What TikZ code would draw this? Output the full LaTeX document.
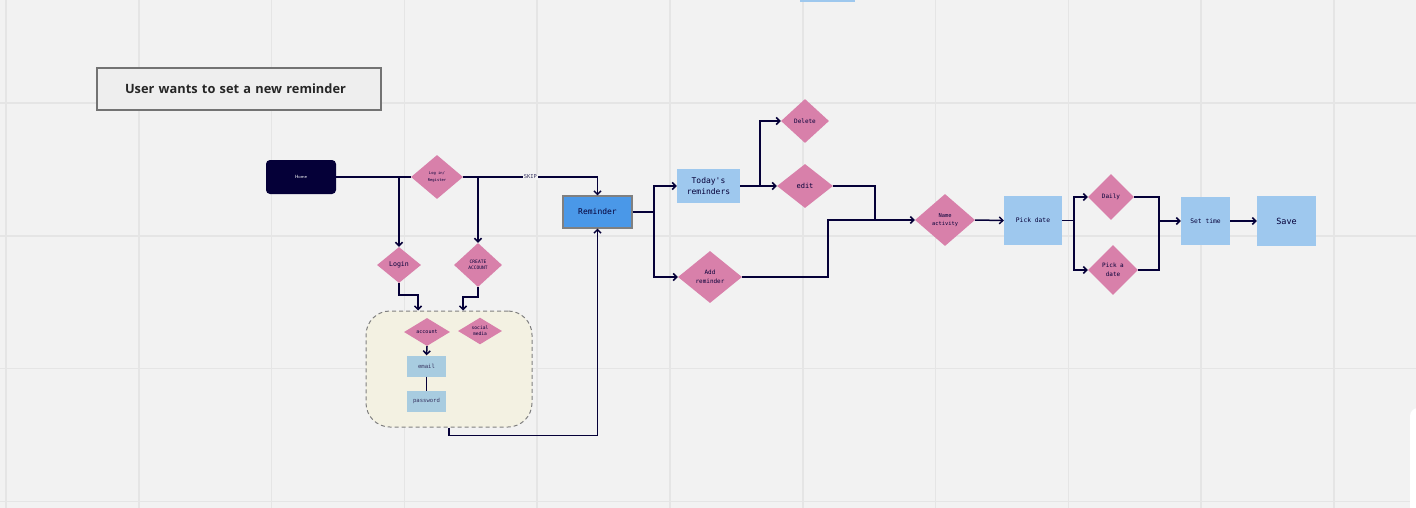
\documentclass[tikz,border=0pt]{standalone}
\usepackage{fontspec}
\setmainfont{Open Sans}
\setmonofont{DejaVu Sans Mono}
\usepackage{xcolor}
\definecolor{boardbg}{HTML}{F2F2F2}
\definecolor{gridline}{HTML}{E5E5E5}
\definecolor{ink}{HTML}{050038}
\definecolor{choicepink}{HTML}{D880AA}
\definecolor{screenblue}{HTML}{9EC8EE}
\definecolor{fieldblue}{HTML}{A8CCE0}
\definecolor{mainblue}{HTML}{4A98E8}
\definecolor{groupbg}{HTML}{F3F1E2}
\definecolor{titlebg}{HTML}{EEEEEE}
\usetikzlibrary{arrows.meta, positioning, shapes.geometric}
\newcommand{\fsz}[2]{\fontsize{#1}{#2}\selectfont}

\begin{document}
\begin{tikzpicture}[
  x=1pt, y=-1pt,
  title/.style={
    draw=black!55, fill=titlebg, line width=1.2pt,
    inner xsep=28pt, text width=228pt, align=left,
    minimum height=42pt,
    font=\bfseries\fsz{12.8pt}{15pt}, text=black!85,
  },
  homebox/.style={
    fill=ink, rounded corners=4pt, text=white,
    minimum width=70pt, minimum height=34pt,
    font=\sffamily\fsz{4.6pt}{5pt},
  },
  choice/.style={
    diamond, fill=choicepink, inner sep=0pt, align=center,
    text=ink, font=\ttfamily\fsz{6pt}{9pt},
  },
  screen/.style={
    rectangle, fill=screenblue, align=center, inner sep=0pt,
    text=ink, font=\ttfamily\fsz{6.3pt}{9pt},
  },
  field/.style={
    rectangle, fill=fieldblue, inner sep=0pt,
    minimum width=39pt, minimum height=21pt,
    text=ink!80, font=\ttfamily\fsz{5.6pt}{7pt},
  },
  group/.style={
    draw=black!50, fill=groupbg, dashed, dash pattern=on 4pt off 3pt,
    line width=1pt, rounded corners=24pt,
    minimum width=166pt, minimum height=116pt,
  },
  link/.style={draw=ink, line width=1.5pt},
  flow/.style={link, -{Straight Barb[length=3.5pt, width=7pt]}},
]
\fill[boardbg] (0,0) rectangle (1416,508);
\useasboundingbox (0,0) rectangle (1416,508);
\foreach \i in {0,...,10}
  \draw[gridline, line width=1.5pt] ({6+132.8*\i},0) -- ++(0,508);
\foreach \j in {0,...,3}
  \draw[gridline, line width=1.5pt] (0,{103+132.8*\j}) -- ++(1416,0);
\fill[screenblue] (800,0) rectangle (855,2);
\fill[white, rounded corners=8pt] (1410,408) rectangle (1440,530);

\node[title]   (goal)    at (239,89)    {User wants to set a new reminder};
\node[homebox] (home)    at (301,177)   {Home};
\node[choice, minimum width=52pt, minimum height=44pt, font=\ttfamily\fsz{3.8pt}{7pt}]
               (logreg)  at (437,177)   {Log in/\\Register};
\node[choice, minimum width=44pt, minimum height=36pt, font=\ttfamily\fsz{6.6pt}{8pt}]
               (login)   at (399,265)   {Login};
\node[choice, minimum width=48pt, minimum height=44pt, font=\ttfamily\fsz{4.6pt}{6.5pt}]
               (create)  at (478,265)   {CREATE\\ACCOUNT};

\node[group]   (signin)  at (449,369)   {};
\node[choice, minimum width=46pt, minimum height=28pt, font=\ttfamily\fsz{5pt}{6pt}]
               (account) at (427,332)   {account};
\node[choice, minimum width=44pt, minimum height=26pt, font=\ttfamily\fsz{4.6pt}{6.5pt}]
               (social)  at (480,331)   {social\\media};
\node[field]   (email)   at (426.5,366) {email};
\node[field]   (passwd)  [below=14pt of email] {password};

\node[screen, fill=mainblue, draw=black!50, line width=1.2pt,
      minimum width=69pt, minimum height=32pt, font=\ttfamily\fsz{8pt}{9pt}]
               (reminder) at (597.5,212) {Reminder};
\node[screen, minimum width=63pt, minimum height=34pt, font=\ttfamily\fsz{8pt}{11pt}]
               (today)   at (708.5,186) {Today's\\reminders};
\node[choice, minimum width=48pt, minimum height=44pt]
               (delete)  at (805,121)   {Delete};
\node[choice, minimum width=56pt, minimum height=44pt, font=\ttfamily\fsz{7pt}{8pt}]
               (edit)    at (805,186)   {edit};
\node[choice, minimum width=64pt, minimum height=52pt]
               (addrem)  at (710,277)   {Add\\reminder};
\node[choice, minimum width=60pt, minimum height=52pt, font=\ttfamily\fsz{5.4pt}{7.5pt}]
               (name)    at (945,220)   {Name\\activity};
\node[screen, minimum width=58pt, minimum height=49pt]
               (pickdate) at (1033,220.5) {Pick date};
\node[choice, minimum width=46pt, minimum height=46pt]
               (daily)   at (1111,197)  {Daily};
\node[choice, minimum width=50pt, minimum height=50pt, font=\ttfamily\fsz{6pt}{8.5pt}]
               (pickaday) at (1113,270) {Pick a\\date};
\node[screen, minimum width=49pt, minimum height=48pt]
               (settime) at (1205.5,221) {Set time};
\node[screen, minimum width=59pt, minimum height=50pt, font=\ttfamily\fsz{8.5pt}{10pt}]
               (save)    at (1286.5,221) {Save};

\coordinate (loginsplit)  at (399,177);
\coordinate (createsplit) at (478,177);
\coordinate (loginjog)    at (418,295);
\coordinate (createjog)   at (463,297);
\coordinate (remfork)     at (654,212);
\coordinate (todayfork)   at (760,186);
\coordinate (editjoin)    at (875,220);
\coordinate (addjoin)     at (828,220);
\coordinate (datefork)    at (1074,220.5);
\coordinate (timejoin)    at (1159,221);

\draw[link] (home.east) -- (logreg.west);
\draw[flow] (logreg.east) -- node[fill=boardbg, inner sep=1pt, text=ink!80,
              font=\ttfamily\fsz{5.4pt}{6pt}] {SKIP}
            (logreg.east -| reminder.north) -- (reminder.north);
\draw[flow] (loginsplit) -- (login.north);
\draw[flow] (createsplit) -- (create.north);
\draw[flow] (login.south) |- (loginjog) -- (loginjog |- signin.north);
\draw[flow] (create.south) |- (createjog) -- (createjog |- signin.north);
\draw[flow] (account.south) -- (email.north);
\draw[link] (email.south) -- (passwd.north);
\draw[flow] (signin.south) -- ++(0,8) -| (reminder.south);

\draw[link] (reminder.east) -- (remfork);
\draw[flow] (remfork) |- (today.west);
\draw[flow] (remfork) |- (addrem.west);
\draw[flow] (today.east) -- (edit.west);
\draw[flow] (todayfork) |- (delete.west);
\draw[link] (addrem.east) -| (addjoin) -- (editjoin);
\draw[flow] (edit.east) -| (editjoin) -- (name.west);
\draw[flow] (name.east) -- (pickdate.west);
\draw[link] (pickdate.east) -- (datefork);
\draw[flow] (datefork) |- (daily.west);
\draw[flow] (datefork) |- (pickaday.west);
\draw[link] (pickaday.east) -| (timejoin);
\draw[flow] (daily.east) -| (timejoin) -- (settime.west);
\draw[flow] (settime.east) -- (save.west);
\end{tikzpicture}
\end{document}
